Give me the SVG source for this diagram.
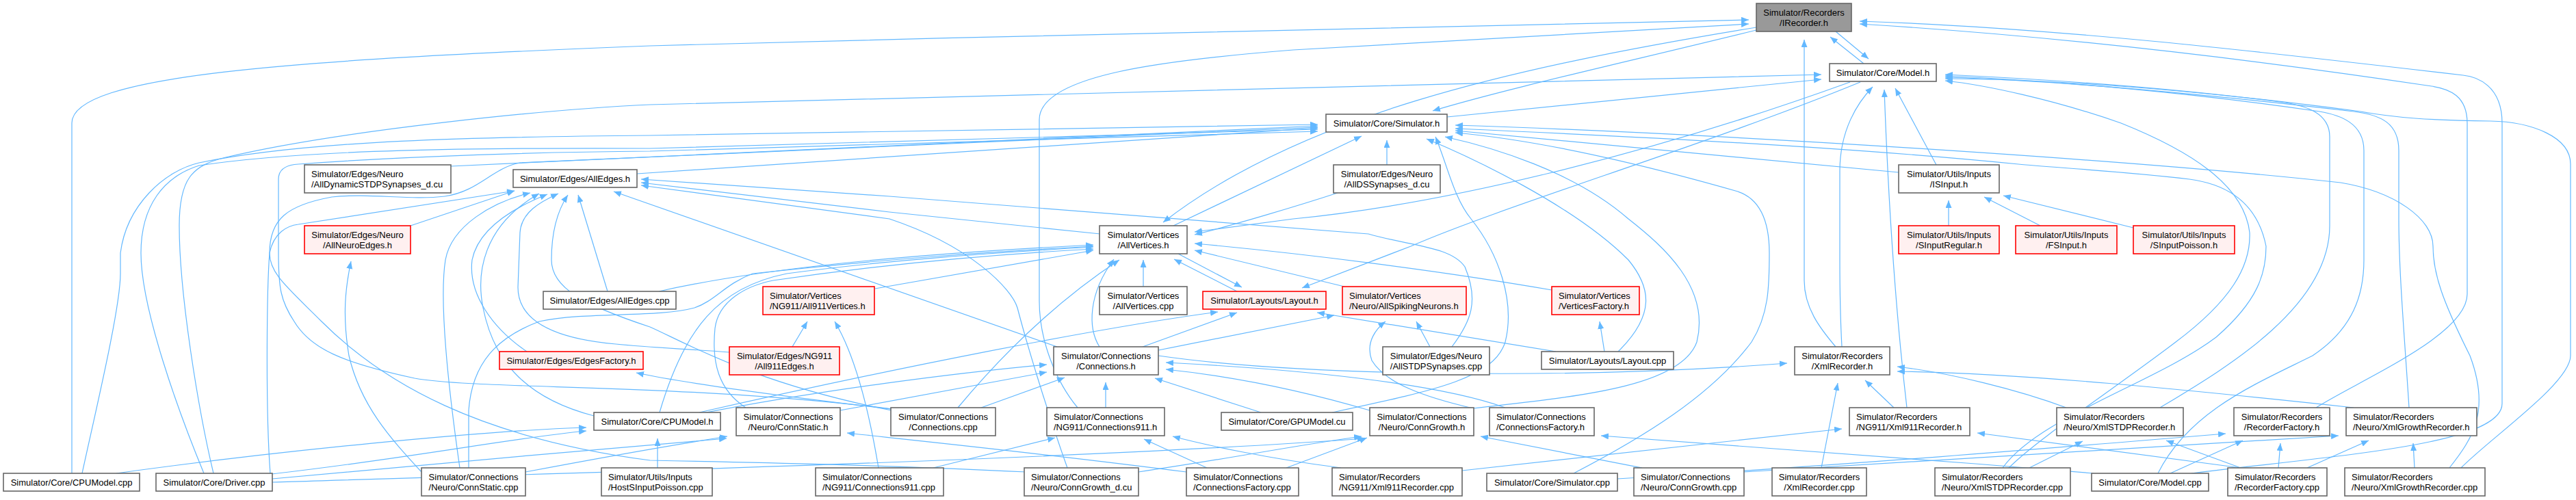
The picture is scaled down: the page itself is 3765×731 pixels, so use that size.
<svg xmlns="http://www.w3.org/2000/svg" width="3765" height="731" viewBox="0 0 3765 731">
<defs>
<marker id="a" markerUnits="userSpaceOnUse" markerWidth="12" markerHeight="9" refX="11" refY="4.5" orient="auto"><path d="M0,0 L11,4.5 L0,9 z" fill="#63b8ff"/></marker>
<style>
.e path{fill:none;stroke:#63b8ff;stroke-width:1.2;marker-end:url(#a)}
.n rect{fill:#ffffff;stroke:#666666;stroke-width:1.6}
.r rect{fill:#fff0f0;stroke:#ff0000;stroke-width:1.6}
.k rect{fill:#999999;stroke:#666666;stroke-width:1.6}
text{font-family:"Liberation Sans",Arial,Helvetica,sans-serif;font-size:13px;fill:#000000}
.c{text-anchor:middle}
</style>
</defs>
<rect x="0" y="0" width="3765" height="731" fill="#ffffff"/>
<g class="e" id="edges">
<path d="M105,692 L105,180 C105,110 420,88 950,67 C1500,52 2100,38 2556,29"/>
<path d="M1575,596 C1545,560 1519,500 1519,440 L1519,175 C1519,110 1700,88 1890,73 C2150,58 2400,42 2556,35"/>
<path d="M2683,507 C2660,480 2637,450 2637,410 L2637,58"/>
<path d="M2300,692 C2400,640 2500,580 2560,500 C2585,460 2586,420 2586,370 C2586,320 2570,290 2540,280 C2400,240 2250,205 2127,194"/>
<path d="M2724,93 L2675,54"/>
<path d="M2683,46 L2731,86"/>
<path d="M3385,596 C3450,555 3606,490 3606,430 L3606,180 C3606,140 3580,130 3554,126 C3300,88 3000,52 2718,35"/>
<path d="M3203,692 C3420,665 3657,650 3657,590 L3657,180 C3657,125 3620,112 3600,110 C3300,75 3000,40 2718,31"/>
<path d="M2567,44 C2380,90 2200,130 2094,162"/>
<path d="M2567,40 C2200,100 1900,170 1700,325"/>
<path d="M2115,171 L2662,116"/>
<path d="M312,692 C290,600 262,430 262,330 C262,262 280,242 330,230 C500,190 800,160 950,153 L2662,109"/>
<path d="M2692,507 C2690,470 2689,420 2689,380 L2689,250 C2689,190 2715,150 2737,127"/>
<path d="M2787,596 C2770,450 2760,300 2754,131"/>
<path d="M2830,241 L2770,129"/>
<path d="M3157,596 C3250,540 3405,450 3405,330 L3405,200 C3405,165 3370,155 3340,150 C3150,125 2950,114 2843,109"/>
<path d="M3154,692 C3200,600 3300,560 3380,520 C3440,480 3455,430 3455,380 L3455,220 C3455,180 3420,168 3390,163 C3200,135 3000,118 2843,111"/>
<path d="M3521,596 C3515,500 3506,400 3506,320 L3506,220 C3506,180 3480,168 3440,163 C3200,135 3000,118 2843,113"/>
<path d="M3597,684 C3640,640 3757,560 3757,520 L3757,240 C3757,200 3700,178 3640,177 C3550,176 3500,172 3450,163 C3200,130 3000,116 2843,115"/>
<path d="M2936,684 C2980,640 3088,570 3180,500 C3260,440 3290,390 3288,340 C3280,270 3200,220 3100,180 C3000,145 2900,124 2843,118"/>
<path d="M2927,684 C2980,610 3150,560 3239,493 C3300,440 3312,400 3312,360 C3300,300 3260,270 3200,262 C3100,250 3000,245 2950,240 C2700,215 2400,200 2127,188"/>
<path d="M3580,684 C3615,640 3640,600 3610,520 C3570,440 3556,400 3556,360 C3556,320 3500,280 3421,267 C3100,232 2500,195 2127,183"/>
<path d="M1715,330 L1990,199"/>
<path d="M2027,241 L2027,205"/>
<path d="M931,254 L1926,187"/>
<path d="M659,243 L1926,184"/>
<path d="M2365,514 C2420,460 2413,420 2380,380 C2300,300 2150,230 2085,203"/>
<path d="M2153,597 C2300,580 2456,567 2480,500 C2500,420 2431,360 2380,320 C2300,250 2180,215 2112,200"/>
<path d="M2775,252 L2127,191"/>
<path d="M120,692 C140,600 176,450 176,400 L176,370 C185,300 240,250 291,238 C450,205 700,200 950,198 L1926,182"/>
<path d="M298,692 C260,600 206,450 206,370 C206,300 240,258 291,242 C450,218 700,216 950,217 L1926,189"/>
<path d="M1305,598 C1000,560 700,570 606,553 C500,530 454,510 430,470 C410,440 407,420 407,370 L407,262 C407,247 420,241 436,240 C600,228 800,222 950,221 L1926,192"/>
<path d="M1500,690 C1300,680 1100,676 950,673 C700,640 560,560 470,470 C420,420 394,400 394,370 C394,320 420,300 485,288 C540,282 600,293 650,287 C700,280 720,245 760,238 L1926,186"/>
<path d="M1947,603 C2100,570 2183,553 2200,500 C2215,440 2190,370 2150,320 C2125,290 2115,240 2098,200"/>
<path d="M600,330 L752,279"/>
<path d="M888,426 L845,285"/>
<path d="M770,514 C720,480 684,430 690,380 C700,330 760,300 800,284"/>
<path d="M672,684 C660,600 640,450 651,380 C660,330 720,295 775,282"/>
<path d="M868,608 C760,580 720,520 706,450 C696,400 705,330 788,283"/>
<path d="M1066,515 C1000,510 950,508 900,503 C810,495 757,470 757,420 L760,340 C762,310 790,295 816,283"/>
<path d="M1303,600 C1100,560 1000,500 950,478 C850,445 806,420 806,380 C806,330 820,300 830,285"/>
<path d="M1545,507 L897,280"/>
<path d="M1608,342 L1300,310 L937,267"/>
<path d="M2122,507 C2150,470 2162,440 2141,390 C2120,360 2062,360 2000,342 L1300,287 L937,262"/>
<path d="M1560,684 C1530,600 1500,500 1487,450 C1479,423 1420,360 1300,320 L937,271"/>
<path d="M395,692 C388,600 390,420 394,370 C400,340 420,330 436,328 L752,279"/>
<path d="M1279,422 L1598,366"/>
<path d="M964,603 C1000,480 1050,420 1150,400 C1300,380 1450,370 1598,361"/>
<path d="M1671,419 L1671,380"/>
<path d="M1722,371 L1815,420"/>
<path d="M1808,426 L1716,379"/>
<path d="M1607,507 C1590,480 1590,430 1628,379"/>
<path d="M1400,596 C1480,500 1560,430 1636,380"/>
<path d="M2704,120 C2400,230 2100,300 1890,320 L1746,339"/>
<path d="M1965,419 L1746,366"/>
<path d="M2268,424 C2100,395 1900,370 1746,356"/>
<path d="M1955,282 C1900,300 1800,330 1746,343"/>
<path d="M963,426 C1100,395 1300,373 1598,358"/>
<path d="M1090,596 C1050,570 1040,530 1045,480 C1050,440 1090,418 1130,410 C1300,385 1450,372 1598,364"/>
<path d="M685,684 L685,600 C690,530 727,493 788,470 C860,455 960,465 1015,450 C1045,440 1060,415 1100,400 C1300,378 1450,368 1598,360"/>
<path d="M2719,120 C2500,210 2200,300 2062,360 L1903,421"/>
<path d="M1022,603 C1300,540 1600,480 1780,456"/>
<path d="M1670,507 L1808,457"/>
<path d="M2274,514 L1925,457"/>
<path d="M1434,596 L1556,552"/>
<path d="M1616,596 L1616,559"/>
<path d="M1843,603 L1688,553"/>
<path d="M1228,600 L1530,544"/>
<path d="M1022,605 C1200,570 1400,545 1530,533"/>
<path d="M2002,600 C1900,570 1800,550 1704,540"/>
<path d="M2200,596 C2100,560 1900,540 1704,530"/>
<path d="M1693,520 C1900,550 2300,555 2612,531"/>
<path d="M1693,512 L1950,461"/>
<path d="M2090,507 L2070,470"/>
<path d="M2153,597 C2080,580 2025,560 2005,527 C1995,500 2012,480 2025,470"/>
<path d="M2345,514 L2338,470"/>
<path d="M2848,330 L2848,293"/>
<path d="M2982,330 L2900,288"/>
<path d="M3118,333 L2928,286"/>
<path d="M1158,507 L1180,470"/>
<path d="M1284,684 C1270,600 1250,520 1220,470"/>
<path d="M616,690 C570,640 527,593 510,520 C500,460 505,420 513,382"/>
<path d="M1302,598 C1150,580 1000,560 930,545"/>
<path d="M170,692 C400,660 700,630 857,625"/>
<path d="M397,693 C600,670 750,640 857,630"/>
<path d="M961,684 L961,641"/>
<path d="M768,690 C900,665 1000,648 1063,638"/>
<path d="M398,700 C600,680 850,660 1062,641"/>
<path d="M1734,690 C1500,660 1300,640 1238,633"/>
<path d="M1364,684 L1542,640"/>
<path d="M1764,684 L1672,642"/>
<path d="M1960,684 C1850,670 1760,650 1714,638"/>
<path d="M1664,690 C1800,670 1900,650 1990,638"/>
<path d="M2400,684 C2300,665 2200,645 2164,638"/>
<path d="M1880,684 L1998,640"/>
<path d="M398,705 C900,690 1600,670 1995,641"/>
<path d="M3060,692 C2800,670 2500,650 2340,637"/>
<path d="M2137,688 L2692,627"/>
<path d="M3275,684 C3100,660 2950,640 2890,633"/>
<path d="M2662,684 L2686,560"/>
<path d="M2768,596 L2726,556"/>
<path d="M3020,596 C2950,570 2850,545 2773,536"/>
<path d="M3440,596 C3200,570 2950,545 2773,543"/>
<path d="M2966,684 L3044,645"/>
<path d="M3275,684 L3166,644"/>
<path d="M3172,692 L3278,644"/>
<path d="M3330,684 L3333,648"/>
<path d="M2364,700 C2700,680 3000,655 3253,634"/>
<path d="M3372,684 L3462,644"/>
<path d="M3529,684 L3527,648"/>
<path d="M2549,690 C2900,670 3200,650 3418,637"/>
</g>
<g id="IR" class="k"><rect x="2567" y="5" width="139" height="41"/><text class="c" x="2636.5" y="22.6">Simulator/Recorders</text><text class="c" x="2636.5" y="38.2">/IRecorder.h</text></g>
<g id="MH" class="n"><rect x="2674" y="93" width="156" height="26"/><text class="c" x="2752" y="110.6">Simulator/Core/Model.h</text></g>
<g id="SH" class="n"><rect x="1938" y="167" width="177" height="26"/><text class="c" x="2026.5" y="184.6">Simulator/Core/Simulator.h</text></g>
<g id="ADSTDP" class="n"><rect x="445" y="241" width="214" height="41"/><text x="455" y="258.6">Simulator/Edges/Neuro</text><text x="455" y="274.2">/AllDynamicSTDPSynapses_d.cu</text></g>
<g id="AE" class="n"><rect x="750" y="248" width="181" height="26"/><text class="c" x="840.5" y="265.6">Simulator/Edges/AllEdges.h</text></g>
<g id="ADS" class="n"><rect x="1949" y="241" width="156" height="41"/><text class="c" x="2027" y="258.6">Simulator/Edges/Neuro</text><text class="c" x="2027" y="274.2">/AllDSSynapses_d.cu</text></g>
<g id="ISI" class="n"><rect x="2775" y="241" width="147" height="41"/><text class="c" x="2848.5" y="258.6">Simulator/Utils/Inputs</text><text class="c" x="2848.5" y="274.2">/ISInput.h</text></g>
<g id="ANE" class="r"><rect x="445" y="330" width="155" height="41"/><text class="c" x="522.5" y="347.6">Simulator/Edges/Neuro</text><text class="c" x="522.5" y="363.2">/AllNeuroEdges.h</text></g>
<g id="AV" class="n"><rect x="1607" y="330" width="128" height="41"/><text class="c" x="1671" y="347.6">Simulator/Vertices</text><text class="c" x="1671" y="363.2">/AllVertices.h</text></g>
<g id="SIR" class="r"><rect x="2775" y="330" width="147" height="41"/><text class="c" x="2848.5" y="347.6">Simulator/Utils/Inputs</text><text class="c" x="2848.5" y="363.2">/SInputRegular.h</text></g>
<g id="FSI" class="r"><rect x="2946" y="330" width="148" height="41"/><text class="c" x="3020" y="347.6">Simulator/Utils/Inputs</text><text class="c" x="3020" y="363.2">/FSInput.h</text></g>
<g id="SIP" class="r"><rect x="3118" y="330" width="148" height="41"/><text class="c" x="3192" y="347.6">Simulator/Utils/Inputs</text><text class="c" x="3192" y="363.2">/SInputPoisson.h</text></g>
<g id="AEcpp" class="n"><rect x="794" y="426" width="194" height="26"/><text class="c" x="891" y="443.6">Simulator/Edges/AllEdges.cpp</text></g>
<g id="A911V" class="r"><rect x="1115" y="419" width="163" height="41"/><text x="1125" y="436.6">Simulator/Vertices</text><text x="1125" y="452.2">/NG911/All911Vertices.h</text></g>
<g id="AVcpp" class="n"><rect x="1607" y="419" width="128" height="41"/><text class="c" x="1671" y="436.6">Simulator/Vertices</text><text class="c" x="1671" y="452.2">/AllVertices.cpp</text></g>
<g id="LH" class="r"><rect x="1758" y="426" width="180" height="26"/><text class="c" x="1848" y="443.6">Simulator/Layouts/Layout.h</text></g>
<g id="ASN" class="r"><rect x="1962" y="419" width="181" height="41"/><text x="1972" y="436.6">Simulator/Vertices</text><text x="1972" y="452.2">/Neuro/AllSpikingNeurons.h</text></g>
<g id="VF" class="r"><rect x="2268" y="419" width="128" height="41"/><text x="2278" y="436.6">Simulator/Vertices</text><text x="2278" y="452.2">/VerticesFactory.h</text></g>
<g id="EF" class="r"><rect x="730" y="514" width="210" height="26"/><text class="c" x="835" y="531.6">Simulator/Edges/EdgesFactory.h</text></g>
<g id="A911E" class="r"><rect x="1066" y="507" width="161" height="41"/><text class="c" x="1146.5" y="524.6">Simulator/Edges/NG911</text><text class="c" x="1146.5" y="540.2">/All911Edges.h</text></g>
<g id="CH" class="n"><rect x="1540" y="507" width="153" height="41"/><text class="c" x="1616.5" y="524.6">Simulator/Connections</text><text class="c" x="1616.5" y="540.2">/Connections.h</text></g>
<g id="ASTDPcpp" class="n"><rect x="2021" y="507" width="156" height="41"/><text class="c" x="2099" y="524.6">Simulator/Edges/Neuro</text><text class="c" x="2099" y="540.2">/AllSTDPSynapses.cpp</text></g>
<g id="Lcpp" class="n"><rect x="2253" y="514" width="193" height="26"/><text class="c" x="2349.5" y="531.6">Simulator/Layouts/Layout.cpp</text></g>
<g id="XRH" class="n"><rect x="2623" y="507" width="139" height="41"/><text class="c" x="2692.5" y="524.6">Simulator/Recorders</text><text class="c" x="2692.5" y="540.2">/XmlRecorder.h</text></g>
<g id="CPUH" class="n"><rect x="868" y="603" width="185" height="26"/><text class="c" x="960.5" y="620.6">Simulator/Core/CPUModel.h</text></g>
<g id="CSH" class="n"><rect x="1076" y="596" width="152" height="41"/><text class="c" x="1152" y="613.6">Simulator/Connections</text><text class="c" x="1152" y="629.2">/Neuro/ConnStatic.h</text></g>
<g id="Ccpp" class="n"><rect x="1302" y="596" width="153" height="41"/><text class="c" x="1378.5" y="613.6">Simulator/Connections</text><text class="c" x="1378.5" y="629.2">/Connections.cpp</text></g>
<g id="C911H" class="n"><rect x="1530" y="596" width="172" height="41"/><text x="1540" y="613.6">Simulator/Connections</text><text x="1540" y="629.2">/NG911/Connections911.h</text></g>
<g id="GPUcu" class="n"><rect x="1785" y="603" width="192" height="26"/><text class="c" x="1881" y="620.6">Simulator/Core/GPUModel.cu</text></g>
<g id="CGH" class="n"><rect x="2002" y="596" width="152" height="41"/><text class="c" x="2078" y="613.6">Simulator/Connections</text><text class="c" x="2078" y="629.2">/Neuro/ConnGrowth.h</text></g>
<g id="CFH" class="n"><rect x="2177" y="596" width="153" height="41"/><text x="2187" y="613.6">Simulator/Connections</text><text x="2187" y="629.2">/ConnectionsFactory.h</text></g>
<g id="X911H" class="n"><rect x="2703" y="596" width="176" height="41"/><text x="2713" y="613.6">Simulator/Recorders</text><text x="2713" y="629.2">/NG911/Xml911Recorder.h</text></g>
<g id="XSTDPH" class="n"><rect x="3006" y="596" width="185" height="41"/><text x="3016" y="613.6">Simulator/Recorders</text><text x="3016" y="629.2">/Neuro/XmlSTDPRecorder.h</text></g>
<g id="RFH" class="n"><rect x="3265" y="596" width="140" height="41"/><text class="c" x="3335" y="613.6">Simulator/Recorders</text><text class="c" x="3335" y="629.2">/RecorderFactory.h</text></g>
<g id="XGH" class="n"><rect x="3429" y="596" width="191" height="41"/><text x="3439" y="613.6">Simulator/Recorders</text><text x="3439" y="629.2">/Neuro/XmlGrowthRecorder.h</text></g>
<g id="CPUcpp" class="n"><rect x="5" y="692" width="199" height="26"/><text class="c" x="104.5" y="709.6">Simulator/Core/CPUModel.cpp</text></g>
<g id="Drv" class="n"><rect x="228" y="692" width="170" height="26"/><text class="c" x="313" y="709.6">Simulator/Core/Driver.cpp</text></g>
<g id="CScpp" class="n"><rect x="616" y="684" width="152" height="41"/><text class="c" x="692" y="701.6">Simulator/Connections</text><text class="c" x="692" y="717.2">/Neuro/ConnStatic.cpp</text></g>
<g id="HSIPcpp" class="n"><rect x="879" y="684" width="162" height="41"/><text x="889" y="701.6">Simulator/Utils/Inputs</text><text x="889" y="717.2">/HostSInputPoisson.cpp</text></g>
<g id="C911cpp" class="n"><rect x="1192" y="684" width="187" height="41"/><text x="1202" y="701.6">Simulator/Connections</text><text x="1202" y="717.2">/NG911/Connections911.cpp</text></g>
<g id="CGdcu" class="n"><rect x="1497" y="684" width="167" height="41"/><text x="1507" y="701.6">Simulator/Connections</text><text x="1507" y="717.2">/Neuro/ConnGrowth_d.cu</text></g>
<g id="CFcpp" class="n"><rect x="1734" y="684" width="164" height="41"/><text x="1744" y="701.6">Simulator/Connections</text><text x="1744" y="717.2">/ConnectionsFactory.cpp</text></g>
<g id="X911cpp" class="n"><rect x="1947" y="684" width="190" height="41"/><text x="1957" y="701.6">Simulator/Recorders</text><text x="1957" y="717.2">/NG911/Xml911Recorder.cpp</text></g>
<g id="Simcpp" class="n"><rect x="2173" y="692" width="191" height="26"/><text class="c" x="2268.5" y="709.6">Simulator/Core/Simulator.cpp</text></g>
<g id="CGcpp" class="n"><rect x="2388" y="684" width="161" height="41"/><text x="2398" y="701.6">Simulator/Connections</text><text x="2398" y="717.2">/Neuro/ConnGrowth.cpp</text></g>
<g id="XRcpp" class="n"><rect x="2590" y="684" width="138" height="41"/><text class="c" x="2659" y="701.6">Simulator/Recorders</text><text class="c" x="2659" y="717.2">/XmlRecorder.cpp</text></g>
<g id="XSTDPcpp" class="n"><rect x="2828" y="684" width="198" height="41"/><text x="2838" y="701.6">Simulator/Recorders</text><text x="2838" y="717.2">/Neuro/XmlSTDPRecorder.cpp</text></g>
<g id="Mcpp" class="n"><rect x="3057" y="692" width="171" height="26"/><text class="c" x="3142.5" y="709.6">Simulator/Core/Model.cpp</text></g>
<g id="RFcpp" class="n"><rect x="3256" y="684" width="145" height="41"/><text x="3266" y="701.6">Simulator/Recorders</text><text x="3266" y="717.2">/RecorderFactory.cpp</text></g>
<g id="XGcpp" class="n"><rect x="3427" y="684" width="205" height="41"/><text x="3437" y="701.6">Simulator/Recorders</text><text x="3437" y="717.2">/Neuro/XmlGrowthRecorder.cpp</text></g>
</svg>
